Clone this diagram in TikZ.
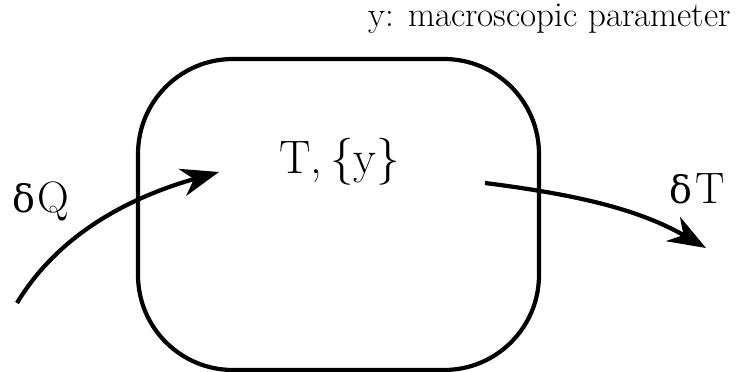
\documentclass[tikz,border=0pt]{standalone}
\usepackage{fontspec}
\newfontfamily\grk{DejaVu Serif}
\usetikzlibrary{arrows.meta}
\begin{document}
\begin{tikzpicture}[x=1pt,y=-1pt,
  lbl/.style={inner sep=0pt,anchor=base west},
  flow/.style={line width=4.2pt,-{Stealth[length=38pt,width=28pt,inset=12pt]}},
  sysbox/.style={draw,line width=4.2pt,rounded corners=95pt}]
\useasboundingbox (0,0) rectangle (740,372);
\node[sysbox,minimum width=401pt,minimum height=311pt,inner sep=0pt] (box) at (338.5,214.5) {};
\node[lbl,font=\fontsize{47}{47}\selectfont] (state) at (279,173) {T,\,\{y\}};
\node[lbl,font=\fontsize{44}{44}\selectfont] (dq) at (12,212) {{\grk\fontsize{38}{38}\selectfont δ}\kern2pt Q};
\node[lbl,font=\fontsize{44}{44}\selectfont] (dt) at (669,203) {{\grk\fontsize{38}{38}\selectfont δ}\kern3pt T};
\node[inner sep=0pt,anchor=base east,font=\fontsize{35}{35}\selectfont] (note) at (731,27) {y: macroscopic parameter};
\coordinate (qs) at (17,303);
\coordinate (qe) at (219,172);
\coordinate (ts) at (485,183);
\coordinate (te) at (706,248);
\draw[flow] (qs) .. controls (55,240) and (120,200) .. (qe);
\draw[flow] (ts) .. controls (580,195) and (640,210) .. (te);
\end{tikzpicture}
\end{document}
